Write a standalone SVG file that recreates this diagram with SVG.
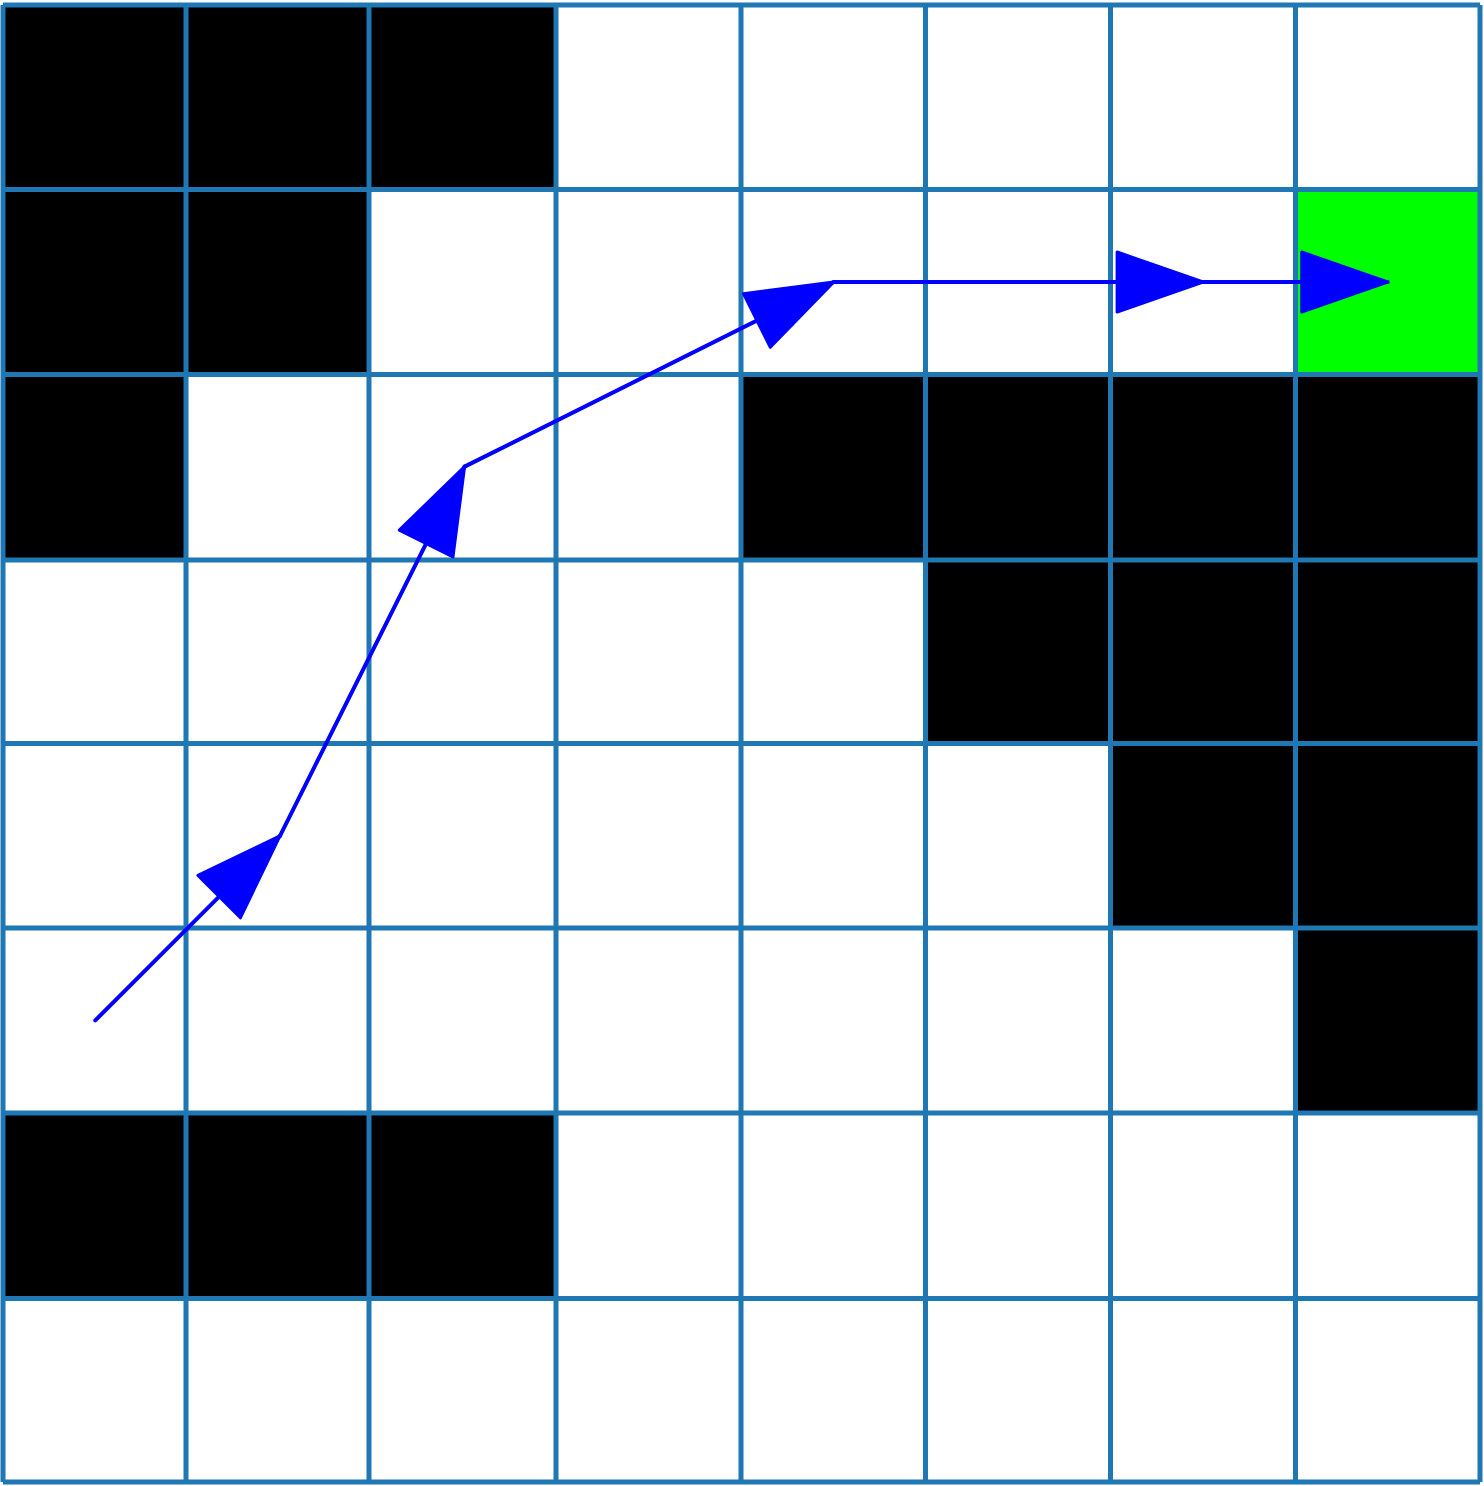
<svg xmlns="http://www.w3.org/2000/svg" width="1484" height="1486" viewBox="0 0 1484 1486">
<style>
.blk{fill:#000000}
.goal{fill:#00ff00}
.gl{stroke:#1f77b4;stroke-width:5;fill:none}
.path{stroke:#0000ff;stroke-width:4;stroke-linecap:round;fill:none;marker-end:url(#ah)}
</style>
<defs>
<marker id="ah" markerUnits="userSpaceOnUse" markerWidth="90" markerHeight="64" viewBox="-2 -2 90 64" refX="86" refY="30" orient="auto">
<path d="M0,0 L86,30 L0,60 z" fill="#0000ff" stroke="#0000ff" stroke-width="3" stroke-linejoin="round"/>
</marker>
</defs>
<rect width="1484" height="1486" fill="#ffffff"/>
<g id="cells">
<g id="r0"><rect class="blk" x="3" y="5" width="553" height="184.5"/></g>
<g id="r1"><rect class="blk" x="3" y="189.5" width="366" height="185"/><rect id="goal" class="goal" x="1295.5" y="189.5" width="184.5" height="185"/></g>
<g id="r2"><rect class="blk" x="3" y="374.5" width="183" height="185.5"/><rect class="blk" x="741" y="374.5" width="739" height="185.5"/></g>
<g id="r3"><rect class="blk" x="925.5" y="560" width="554.5" height="183.5"/></g>
<g id="r4"><rect class="blk" x="1110.5" y="743.5" width="369.5" height="184.5"/></g>
<g id="r5"><rect class="blk" x="1295.5" y="928" width="184.5" height="185"/></g>
<g id="r6"><rect class="blk" x="3" y="1113" width="553" height="185.5"/></g>
</g>
<g id="grid">
<path class="gl" d="M3,5V1482 M186,5V1482 M369,5V1482 M556,5V1482 M741,5V1482 M925.5,5V1482 M1110.5,5V1482 M1295.5,5V1482 M1480,5V1482"/>
<path class="gl" d="M3,5H1480 M3,189.5H1480 M3,374.5H1480 M3,560H1480 M3,743.5H1480 M3,928H1480 M3,1113H1480 M3,1298.5H1480 M3,1482H1480"/>
</g>
<g id="connectors">
<line class="path" x1="95.3" y1="1020.4" x2="280" y2="835.8"/>
<line class="path" x1="280" y1="835.8" x2="464.6" y2="466.6"/>
<line class="path" x1="464.6" y1="466.6" x2="833.8" y2="282"/>
<line class="path" x1="833.8" y1="282" x2="1203.1" y2="282"/>
<line class="path" x1="1203.1" y1="282" x2="1387.7" y2="282"/>
</g>
</svg>
